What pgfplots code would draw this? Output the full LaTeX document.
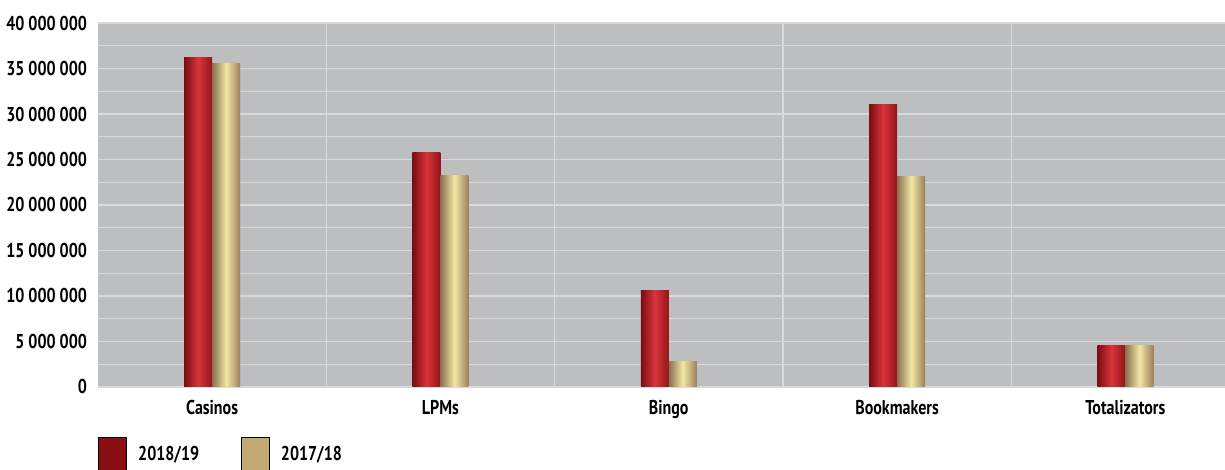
\documentclass[border=0pt]{standalone}
\usepackage{pgfplots}
\pgfplotsset{compat=1.18}
\usepackage{fontspec}
\setmainfont{PT Sans}[FakeStretch=0.8]
\definecolor{bg}{HTML}{BDBEC0}
\definecolor{gridc}{HTML}{D9D9DA}
\definecolor{rdark}{HTML}{7A0C10}
\definecolor{rmid}{HTML}{D8343A}
\definecolor{rright}{HTML}{931519}
\definecolor{gdark}{HTML}{8A7050}
\definecolor{gmid}{HTML}{F1E7A3}
\definecolor{gright}{HTML}{9C7F5E}
\definecolor{legred}{HTML}{8B1014}
\definecolor{leggold}{HTML}{C2A872}
\pgfplotsset{
  redbar/.style={draw=none, bar shift=-7pt, left color=rdark, right color=rright, middle color=rmid, forget plot},
  goldbar/.style={draw=none, bar shift=7pt, left color=gdark, right color=gright, middle color=gmid, forget plot},
}
\begin{document}
\begin{tikzpicture}
\useasboundingbox (-49pt,-41.5pt) rectangle (563.5pt,193.5pt);
\begin{axis}[
  at={(0,0)}, anchor=south west,
  scale only axis, width=570.75pt, height=182pt,
  ybar, bar width=14pt,
  xmin=-0.5, xmax=4.5, ymin=0, ymax=40000000,
  xtick={0,1,2,3,4},
  xticklabels={Casinos,LPMs,Bingo,Bookmakers,Totalizators},
  minor xtick={0.5,1.5,2.5,3.5},
  ytick={0,5000000,...,40000000},
  yticklabels={0,5 000 000,10 000 000,15 000 000,20 000 000,25 000 000,30 000 000,35 000 000,40 000 000},
  minor ytick={2500000,7500000,...,37500000},
  scaled y ticks=false,
  yticklabel style={font=\bfseries\fontsize{10}{12}\selectfont, xshift=-2pt},
  xticklabel style={font=\bfseries\fontsize{10}{12}\selectfont, yshift=-3pt},
  major tick length=0pt, minor tick length=0pt,
  ymajorgrids, yminorgrids, xminorgrids,
  grid style={gridc, line width=0.6pt},
  minor grid style={gridc, line width=0.6pt},
  axis background/.style={fill=bg},
  axis line style={draw=none},
  axis x line*=bottom,
  x axis line style={draw=gridc, line width=1pt},
  y axis line style={draw=none},
  ytick pos=left,
  xtick pos=bottom,
  legend style={at={(0,0)}, anchor=north west, yshift=-25pt, draw=none, fill=none,
    inner sep=0pt, font=\bfseries\fontsize{10}{12}\selectfont,
    legend columns=2,
    /tikz/every odd column/.append style={column sep=3.5pt},
    /tikz/every even column/.append style={column sep=19pt}},
  legend cell align=left,
]
\addlegendimage{legend image code/.code={\path[fill=legred] (0pt,-8.5pt) rectangle (14pt,8.5pt);}}
\addlegendentry{2018/19}
\addlegendimage{legend image code/.code={\path[fill=leggold] (0pt,-8.5pt) rectangle (14pt,8.5pt);}}
\addlegendentry{2017/18}
% 2018/19
\addplot[redbar] coordinates {(0,36250000)};
\addplot[redbar] coordinates {(1,25750000)};
\addplot[redbar] coordinates {(2,10650000)};
\addplot[redbar] coordinates {(3,31000000)};
\addplot[redbar] coordinates {(4,4600000)};
% 2017/18
\addplot[goldbar] coordinates {(0,35600000)};
\addplot[goldbar] coordinates {(1,23200000)};
\addplot[goldbar] coordinates {(2,2850000)};
\addplot[goldbar] coordinates {(3,23100000)};
\addplot[goldbar] coordinates {(4,4600000)};
\end{axis}
\end{tikzpicture}
\end{document}
